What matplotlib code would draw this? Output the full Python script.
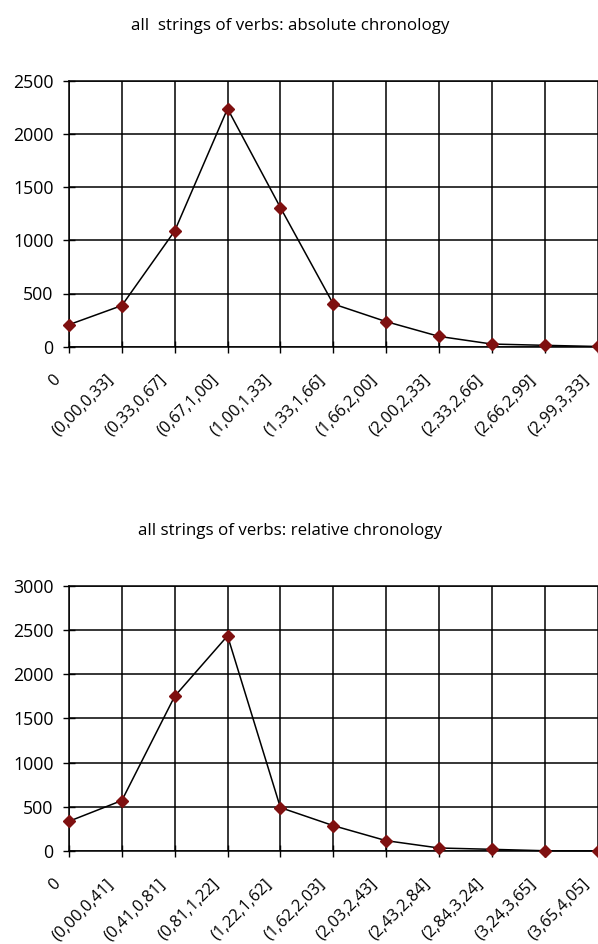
import matplotlib
matplotlib.use("Agg")
import matplotlib.pyplot as plt
from matplotlib.transforms import ScaledTranslation

plt.rcParams['font.family'] = ['Open Sans', 'DejaVu Sans']

# absolute chronology
abs_categories = ["0", "(0,00,0,33]", "(0,33,0,67]", "(0,67,1,00]", "(1,00,1,33]",
                  "(1,33,1,66]", "(1,66,2,00]", "(2,00,2,33]", "(2,33,2,66]",
                  "(2,66,2,99]", "(2,99,3,33]"]
abs_values = [207, 387, 1088, 2237, 1308, 402, 236, 97, 25, 13, 2]
abs_yticks = [0, 500, 1000, 1500, 2000, 2500]

# relative chronology
rel_categories = ["0", "(0,00,0,41]", "(0,41,0,81]", "(0,81,1,22]", "(1,22,1,62]",
                  "(1,62,2,03]", "(2,03,2,43]", "(2,43,2,84]", "(2,84,3,24]",
                  "(3,24,3,65]", "(3,65,4,05]"]
rel_values = [336, 571, 1750, 2433, 491, 287, 117, 34, 19, 3, 1]
rel_yticks = [0, 500, 1000, 1500, 2000, 2500, 3000]

W, H = 598, 944
fig = plt.figure(figsize=(W / 100, H / 100), dpi=100)


def px_box(left, top, right, bottom):
    return [left / W, 1 - bottom / H, (right - left) / W, (bottom - top) / H]


def draw_panel(rect, title, title_y, cats, vals, yticks):
    ax = fig.add_axes(rect)
    x = list(range(len(cats)))
    ax.plot(x, vals, color='black', lw=1.1, marker='D', ms=6.5,
            mfc='#7f1010', mec='#7f1010', clip_on=False, zorder=3)
    ax.set_xlim(0, len(cats) - 1)
    ax.set_ylim(yticks[0], yticks[-1])
    ax.set_yticks(yticks)
    ax.set_xticks(x)
    ax.set_xticklabels(cats, rotation=45, ha='right', va='center',
                       rotation_mode='anchor')
    ax.grid(True, color='black', lw=1.1)
    ax.set_axisbelow(True)
    for s in ax.spines.values():
        s.set_color('black')
        s.set_linewidth(1.1)
    ax.spines['right'].set_visible(False)
    ax.tick_params(axis='both', direction='inout', length=8, width=1.0,
                   color='black')
    ax.tick_params(axis='y', pad=7, labelsize=12.8)
    ax.tick_params(axis='x', pad=18, labelsize=11.8)
    off = ScaledTranslation(-11 / 100, 0, fig.dpi_scale_trans)
    for lab in ax.get_xticklabels():
        lab.set_transform(lab.get_transform() + off)
    fig.text(290 / W, 1 - title_y / H, title, ha='center', va='center',
             fontsize=12.2)
    return ax


draw_panel(px_box(69, 80.7, 597.5, 346.7),
           "all  strings of verbs: absolute chronology", 26,
           abs_categories, abs_values, abs_yticks)
draw_panel(px_box(69, 585.7, 597.5, 851),
           "all strings of verbs: relative chronology", 531,
           rel_categories, rel_values, rel_yticks)

fig.savefig("out.png", dpi=100)
